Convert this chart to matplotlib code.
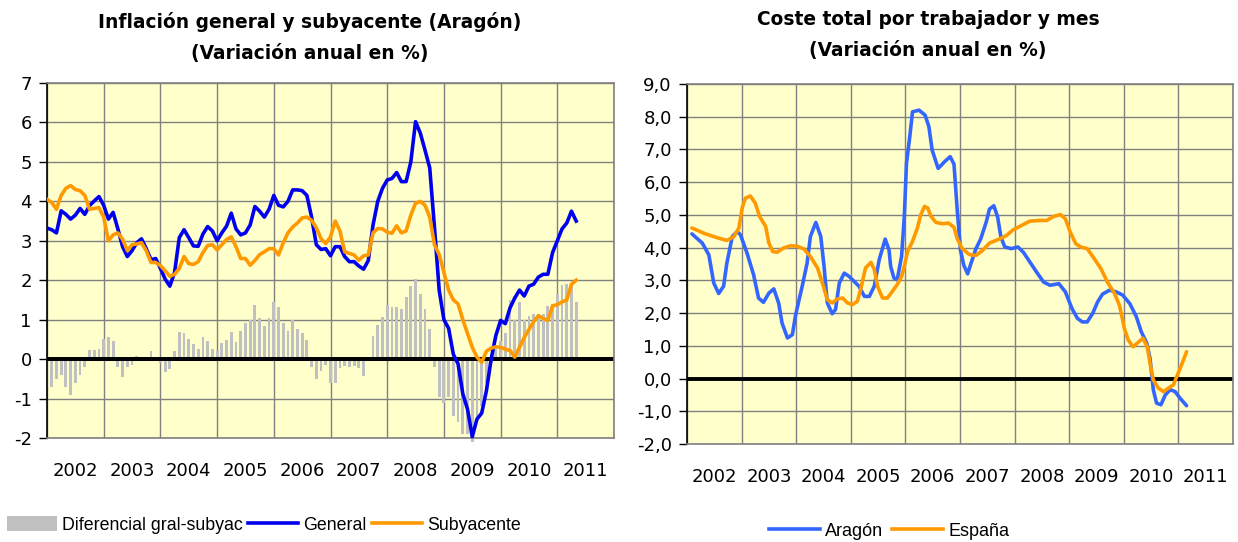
import matplotlib
matplotlib.use("Agg")
import matplotlib.pyplot as plt
from matplotlib.patches import Patch
from matplotlib.lines import Line2D

plt.rcParams['font.family'] = ['Liberation Sans', 'DejaVu Sans']

# ---------------- Left chart data (monthly, Jan 2002 - May 2011) ----------------
start_year = 2002
general = [
    3.32, 3.28, 3.20, 3.76, 3.67, 3.55, 3.65, 3.82, 3.67, 3.89, 4.01, 4.12,   # 2002
    3.90, 3.55, 3.72, 3.30, 2.85, 2.60, 2.75, 2.95, 3.05, 2.80, 2.52, 2.55,   # 2003
    2.30, 2.03, 1.85, 2.20, 3.08, 3.28, 3.08, 2.87, 2.86, 3.17, 3.36, 3.25,   # 2004
    3.00, 3.20, 3.37, 3.70, 3.30, 3.15, 3.20, 3.40, 3.87, 3.75, 3.60, 3.80,   # 2005
    4.15, 3.90, 3.86, 4.00, 4.29, 4.29, 4.27, 4.15, 3.60, 2.90, 2.78, 2.80,   # 2006
    2.62, 2.85, 2.85, 2.60, 2.47, 2.47, 2.36, 2.28, 2.50, 3.40, 4.00, 4.33,   # 2007
    4.54, 4.58, 4.73, 4.50, 4.50, 5.00, 6.02, 5.73, 5.30, 4.85, 3.35, 1.75,   # 2008
    1.00, 0.78, 0.12, -0.12, -0.88, -1.27, -1.97, -1.52, -1.37, -0.80, 0.00, 0.60,  # 2009
    0.98, 0.90, 1.30, 1.55, 1.75, 1.60, 1.85, 1.90, 2.08, 2.15, 2.15, 2.70,   # 2010
    3.00, 3.30, 3.45, 3.75, 3.50,                                             # 2011
]
subyacente = [
    4.05, 3.97, 3.80, 4.15, 4.33, 4.40, 4.30, 4.27, 4.15, 3.80, 3.82, 3.84,   # 2002
    3.60, 3.00, 3.15, 3.20, 3.04, 2.75, 2.90, 2.92, 2.95, 2.75, 2.45, 2.45,   # 2003
    2.37, 2.24, 2.10, 2.15, 2.30, 2.60, 2.42, 2.40, 2.47, 2.70, 2.88, 2.90,   # 2004
    2.77, 2.90, 3.03, 3.10, 2.85, 2.55, 2.55, 2.38, 2.50, 2.65, 2.72, 2.80,   # 2005
    2.80, 2.64, 2.95, 3.20, 3.35, 3.45, 3.58, 3.60, 3.52, 3.33, 3.05, 2.93,   # 2006
    3.10, 3.50, 3.25, 2.72, 2.68, 2.64, 2.51, 2.62, 2.64, 3.20, 3.31, 3.30,   # 2007
    3.22, 3.19, 3.38, 3.20, 3.25, 3.65, 3.95, 4.00, 3.90, 3.60, 2.90, 2.65,   # 2008
    2.20, 1.75, 1.50, 1.40, 1.00, 0.65, 0.30, 0.05, -0.08, 0.20, 0.28, 0.31,  # 2009
    0.30, 0.25, 0.22, 0.05, 0.30, 0.55, 0.75, 0.95, 1.10, 1.03, 0.98, 1.35,   # 2010
    1.38, 1.45, 1.50, 1.90, 2.00,                                             # 2011
]
diferencial = [
    -0.70, -0.70, -0.50, -0.40, -0.70, -0.91, -0.60, -0.40, -0.19, 0.22, 0.22, 0.25,  # 2002
    0.50, 0.57, 0.45, -0.20, -0.45, -0.20, -0.15, 0.08, 0.00, 0.02, 0.20, 0.02,      # 2003
    -0.10, -0.33, -0.25, 0.20, 0.70, 0.65, 0.50, 0.38, 0.25, 0.57, 0.45, 0.25,       # 2004
    0.20, 0.40, 0.48, 0.70, 0.43, 0.71, 0.92, 0.98, 1.36, 1.03, 0.83, 1.03,          # 2005
    1.45, 1.32, 0.92, 0.71, 0.98, 0.77, 0.66, 0.49, -0.20, -0.50, -0.29, -0.16,      # 2006
    -0.61, -0.61, -0.22, -0.18, -0.20, -0.18, -0.22, -0.42, 0.05, 0.58, 0.86, 1.07,  # 2007
    1.36, 1.32, 1.32, 1.28, 1.58, 1.85, 2.04, 1.66, 1.28, 0.77, -0.20, -0.97,        # 2008
    -1.10, -0.97, -1.43, -1.60, -1.90, -1.90, -2.10, -1.60, -1.20, -0.60, -0.10, 0.25,  # 2009
    0.45, 0.65, 1.50, 1.00, 1.45, 1.00, 1.10, 1.15, 1.15, 1.15, 1.35, 1.40,          # 2010
    1.65, 1.87, 1.91, 1.91, 1.45,                                                    # 2011
]
years = list(range(2002, 2012))
year_labels = [str(y) for y in years]
left_title = "Inflación general y subyacente (Aragón)\n(Variación anual en %)"
left_yticks = list(range(-2, 8))

# ---------------- Right chart data ----------------
aragon_t = [
    2002.09, 2002.28, 2002.40, 2002.49, 2002.58, 2002.67, 2002.73, 2002.83, 2002.92, 2002.98,
    2003.10, 2003.22, 2003.31, 2003.40, 2003.50, 2003.59, 2003.68, 2003.74, 2003.84, 2003.93, 2003.99,
    2004.11, 2004.20, 2004.26, 2004.36, 2004.45, 2004.51, 2004.57, 2004.66, 2004.72, 2004.79, 2004.88, 2004.97,
    2005.06, 2005.15, 2005.25, 2005.34, 2005.43, 2005.52, 2005.63, 2005.70, 2005.73, 2005.79, 2005.85, 2005.93, 2005.98,
    2006.02, 2006.08, 2006.13, 2006.25, 2006.36, 2006.43, 2006.49, 2006.60, 2006.72, 2006.82, 2006.89, 2006.95,
    2007.01, 2007.07, 2007.14, 2007.20, 2007.29, 2007.38, 2007.48, 2007.54, 2007.62, 2007.69, 2007.75, 2007.82, 2007.94,
    2008.06, 2008.16, 2008.28, 2008.40, 2008.53, 2008.65, 2008.81, 2008.93,
    2009.05, 2009.15, 2009.24, 2009.33, 2009.43, 2009.52, 2009.61, 2009.74, 2009.86, 2009.98,
    2010.11, 2010.23, 2010.32, 2010.42, 2010.48, 2010.54, 2010.60, 2010.68, 2010.76, 2010.85, 2010.94,
    2011.03, 2011.15,
]
aragon_v = [
    4.42, 4.14, 3.78, 2.92, 2.60, 2.82, 3.53, 4.34, 4.49, 4.39,
    3.83, 3.17, 2.46, 2.33, 2.61, 2.74, 2.30, 1.70, 1.24, 1.34, 1.95,
    2.82, 3.53, 4.34, 4.77, 4.34, 3.43, 2.31, 1.98, 2.11, 2.92, 3.22, 3.12,
    2.97, 2.82, 2.51, 2.51, 2.82, 3.63, 4.26, 3.93, 3.43, 3.07, 3.02, 3.73, 4.95,
    6.58, 7.39, 8.15, 8.20, 8.05, 7.70, 6.98, 6.42, 6.63, 6.78, 6.55, 5.13,
    3.91, 3.46, 3.20, 3.51, 3.96, 4.27, 4.78, 5.18, 5.28, 4.93, 4.32, 4.02, 3.97,
    4.02, 3.86, 3.56, 3.26, 2.95, 2.85, 2.90, 2.65,
    2.14, 1.84, 1.73, 1.73, 1.99, 2.34, 2.58, 2.70, 2.65, 2.55,
    2.29, 1.89, 1.43, 1.08, 0.62, -0.34, -0.75, -0.80, -0.50, -0.34, -0.40,
    -0.60, -0.83,
]
espana_t = [
    2002.09, 2002.34, 2002.58, 2002.73, 2002.86, 2002.95,
    2003.01, 2003.07, 2003.16, 2003.25, 2003.33, 2003.44, 2003.50, 2003.57, 2003.65, 2003.77, 2003.90,
    2004.02, 2004.14, 2004.26, 2004.39, 2004.48, 2004.57, 2004.66, 2004.75, 2004.85, 2004.94,
    2005.03, 2005.12, 2005.18, 2005.27, 2005.37, 2005.43, 2005.49, 2005.58, 2005.67, 2005.76, 2005.85, 2005.93, 2005.98,
    2006.04, 2006.13, 2006.22, 2006.28, 2006.35, 2006.41, 2006.47, 2006.56, 2006.68, 2006.79, 2006.89, 2006.95,
    2007.04, 2007.17, 2007.29, 2007.41, 2007.54, 2007.69, 2007.85, 2007.97,
    2008.13, 2008.28, 2008.47, 2008.59, 2008.71, 2008.84, 2008.93,
    2009.02, 2009.12, 2009.21, 2009.33, 2009.46, 2009.58, 2009.70, 2009.83, 2009.92, 2009.98,
    2010.01, 2010.08, 2010.17, 2010.26, 2010.35, 2010.43, 2010.48, 2010.54, 2010.63, 2010.73, 2010.82, 2010.91, 2010.97,
    2011.07, 2011.15,
]
espana_v = [
    4.60, 4.42, 4.29, 4.22, 4.34, 4.60,
    5.21, 5.51, 5.58, 5.36, 4.95, 4.65, 4.14, 3.88, 3.86, 3.99, 4.06,
    4.04, 3.96, 3.73, 3.38, 2.92, 2.41, 2.31, 2.43, 2.46, 2.31,
    2.26, 2.36, 2.72, 3.38, 3.55, 3.33, 2.82, 2.46, 2.46, 2.66, 2.87, 3.12, 3.43,
    3.88, 4.19, 4.60, 5.00, 5.26, 5.21, 4.95, 4.77, 4.73, 4.75, 4.62, 4.27,
    3.97, 3.79, 3.76, 3.91, 4.14, 4.24, 4.37, 4.54,
    4.68, 4.81, 4.83, 4.83, 4.95, 5.01, 4.88,
    4.47, 4.12, 4.02, 3.97, 3.66, 3.36, 2.95, 2.60, 2.24, 1.78,
    1.53, 1.18, 0.97, 1.10, 1.23, 0.97, 0.47, -0.04, -0.29, -0.40, -0.29, -0.19, 0.06,
    0.47, 0.82,
]
right_title = "Coste total por trabajador y mes\n(Variación anual en %)"
right_yticks = list(range(-2, 10))
right_ytick_labels = [f"{v:.1f}".replace(".", ",") for v in right_yticks]

# ---------------- Styling ----------------
BG = "#FFFFCC"
GRID = "#808080"
C_GEN = "#0000EE"
C_SUB = "#FF9900"
C_BAR = "#C0C0C0"
C_ARA = "#3366FF"
TICK_FONT = ['DejaVu Sans']

fig = plt.figure(figsize=(12.38, 5.42), dpi=100)
ax1 = fig.add_axes([47/1238, 1-438/542, 567/1238, 355/542])
ax2 = fig.add_axes([687/1238, 1-444/542, 546/1238, 360/542])


def style_axes(ax, ylo, yhi, yticks, yticklabels):
    ax.set_facecolor(BG)
    ax.set_xlim(2002, 2012)
    ax.set_ylim(ylo, yhi)
    ax.set_yticks(yticks)
    ax.set_yticklabels(yticklabels, family=TICK_FONT, fontsize=13)
    ax.set_xticks(years + [2012])
    ax.set_xticklabels([])
    ax.set_xticks([y + 0.5 for y in years], minor=True)
    ax.set_xticklabels(year_labels, minor=True, family=TICK_FONT, fontsize=13)
    ax.tick_params(axis='x', which='both', length=0)
    ax.tick_params(axis='x', which='minor', pad=17)
    ax.tick_params(axis='y', direction='out', length=6, width=1, color='black', pad=5)
    ax.grid(True, which='major', color=GRID, linewidth=1)
    ax.set_axisbelow(True)
    for s in ['top', 'right', 'bottom']:
        ax.spines[s].set_color(GRID)
        ax.spines[s].set_linewidth(1.2)
    ax.spines['left'].set_color('black')
    ax.spines['left'].set_linewidth(1.2)
    ax.axhline(0, color='black', linewidth=2.8, zorder=2)


# Left chart
style_axes(ax1, -2, 7, left_yticks, [str(v) for v in left_yticks])
x_month = [start_year + k / 12 for k in range(len(general))]
ax1.bar(x_month, diferencial, width=0.6 / 12, color=C_BAR, zorder=1.5, clip_on=False)
ax1.axhline(0, color='black', linewidth=2.8, zorder=2)
ax1.plot(x_month, general, color=C_GEN, linewidth=2.6, zorder=3, solid_joinstyle='round')
ax1.plot(x_month, subyacente, color=C_SUB, linewidth=2.6, zorder=3, solid_joinstyle='round')
fig.text(310/1238, 1-37/542, left_title, ha='center', va='center', family=TICK_FONT,
         fontsize=13.4, fontweight='bold', linespacing=1.8)

# Right chart
style_axes(ax2, -2, 9, right_yticks, right_ytick_labels)
ax2.plot(aragon_t, aragon_v, color=C_ARA, linewidth=2.6, zorder=3,
         solid_joinstyle='round', solid_capstyle='round')
ax2.plot(espana_t, espana_v, color=C_SUB, linewidth=2.6, zorder=3,
         solid_joinstyle='round', solid_capstyle='round')
fig.text(928/1238, 1-35/542, right_title, ha='center', va='center', family=TICK_FONT,
         fontsize=13.4, fontweight='bold', linespacing=1.8)

# Legends
h_left = [Patch(facecolor=C_BAR, edgecolor='none', label='Diferencial gral-subyac'),
          Line2D([], [], color=C_GEN, linewidth=2.6, label='General'),
          Line2D([], [], color=C_SUB, linewidth=2.6, label='Subyacente')]
fig.legend(handles=h_left, loc='center', bbox_to_anchor=(264/1238, 1-525/542),
           ncol=3, frameon=False, fontsize=12.8, handlelength=2.8, handleheight=0.9,
           handletextpad=0.3, columnspacing=0.3)
h_right = [Line2D([], [], color=C_ARA, linewidth=2.6, label='Aragón'),
           Line2D([], [], color=C_SUB, linewidth=2.6, label='España')]
fig.legend(handles=h_right, loc='center', bbox_to_anchor=(889/1238, 1-531/542),
           ncol=2, frameon=False, fontsize=13, handlelength=2.8,
           handletextpad=0.3, columnspacing=0.5)

fig.savefig("out.png", dpi=100, facecolor='white')
